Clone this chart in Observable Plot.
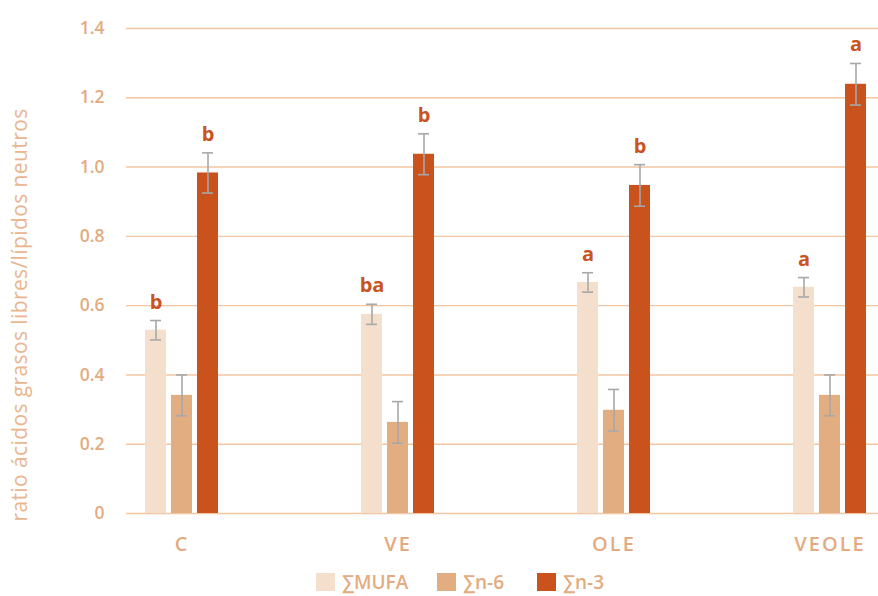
<!DOCTYPE html>
<html>
<head>
<meta charset="utf-8">
<script src="https://cdn.jsdelivr.net/npm/d3@7"></script>
<script src="https://cdn.jsdelivr.net/npm/@observablehq/plot@0.6"></script>
<style>
  html, body { margin: 0; padding: 0; background: #fff; }
  #chart { width: 878px; position: relative; height: 568px; }
  #chart svg { position: absolute; left: 0; top: 0; }
  .legend { position: relative; height: 28px; width: 878px; font-family: "Open Sans", sans-serif; font-weight: 600; font-size: 19px; color: #E3AB7F; }
  .legend .item { position: absolute; top: 0; display: flex; align-items: center; height: 28px; }
  .legend .sw { width: 19px; height: 18px; margin-right: 7px; }
</style>
</head>
<body>
<div id="chart"></div>
<div id="legend" class="legend"></div>
<script>
const categories = ["C", "VE", "OLE", "VEOLE"];
const series = ["∑MUFA", "∑n-6", "∑n-3"];
const mufa = [0.529, 0.575, 0.667, 0.653];
const n6 = [0.341, 0.263, 0.298, 0.341];
const n3 = [0.983, 1.037, 0.947, 1.239];
const mufaErr = [0.028, 0.029, 0.028, 0.028];
const n6Err = [0.059, 0.060, 0.060, 0.059];
const n3Err = [0.058, 0.059, 0.060, 0.060];
const mufaSig = ["b", "ba", "a", "a"];
const n6Sig = ["", "", "", ""];
const n3Sig = ["b", "b", "b", "a"];
const yTicks = [0, 0.2, 0.4, 0.6, 0.8, 1.0, 1.2, 1.4];
const colors = ["#F4DFCC", "#E3AD82", "#C9521D"];
const yTitle = "ratio ácidos grasos libres/lípidos neutros";

const valuesBySeries = [mufa, n6, n3];
const errBySeries = [mufaErr, n6Err, n3Err];
const sigBySeries = [mufaSig, n6Sig, n3Sig];
const data = [];
categories.forEach((c, i) => {
  series.forEach((s, j) => {
    const v = valuesBySeries[j][i], e = errBySeries[j][i];
    data.push({cat: c, series: s, value: v, lo: v - e, hi: v + e, sig: sigBySeries[j][i]});
  });
});

const tan = "#E3AB7F";
const common = {
  width: 878,
  height: 568,
  marginLeft: 126,
  marginRight: 0,
  marginTop: 28,
  marginBottom: 55,
  y: {domain: [0, 1.4], axis: null}
};

// Layer 1: grid, y axis and y title (not faceted)
const back = Plot.plot({
  ...common,
  style: {fontFamily: "'Open Sans', sans-serif", background: "#fff"},
  marks: [
    Plot.ruleY(yTicks, {y: d => d, stroke: "#F2C6A2", strokeWidth: 1.4}),
    Plot.axisY(yTicks, {tickSize: 0, tickPadding: 22, tickFormat: d => d === 0 ? "0" : d.toFixed(1), fill: tan, fontSize: 17.5, fontWeight: 600, label: null}),
    Plot.text([yTitle], {text: d => d, frameAnchor: "left", textAnchor: "middle", rotate: -90, dx: -106, dy: 44, fill: "#E9B690", fontSize: 21, fontWeight: 400})
  ]
});
back.querySelectorAll("text").forEach(t => { if (t.textContent === yTitle) t.setAttribute("letter-spacing", "0.4"); });

// Layer 2: bars, error bars, letters and category axis (faceted)
const front = Plot.plot({
  ...common,
  style: {fontFamily: "'Open Sans', sans-serif", background: "transparent"},
  fx: {domain: categories, paddingInner: 0.632, paddingOuter: 0.0566, align: 0.663, axis: null},
  x: {domain: series, paddingInner: 0.2, paddingOuter: 0.1, axis: null},
  color: {domain: series, range: colors},
  marks: [
    Plot.barY(data, {fx: "cat", x: "series", y: "value", fill: "series"}),
    Plot.ruleX(data, {fx: "cat", x: "series", y1: "lo", y2: "hi", stroke: "#A8A8A8", strokeWidth: 1.6}),
    Plot.tickY(data, {fx: "cat", x: "series", y: "hi", stroke: "#A8A8A8", strokeWidth: 1.6, insetLeft: 5, insetRight: 5}),
    Plot.tickY(data, {fx: "cat", x: "series", y: "lo", stroke: "#A8A8A8", strokeWidth: 1.6, insetLeft: 5, insetRight: 5}),
    Plot.text(data.filter(d => d.sig), {fx: "cat", x: "series", y: "hi", text: "sig", dy: -12, lineAnchor: "bottom", fill: "#C9541F", fontSize: 20, fontWeight: 700}),
    Plot.axisFx({anchor: "bottom", tickSize: 0, tickPadding: 23, fontSize: 20, fontWeight: 600, fill: tan, label: null})
  ]
});
front.querySelectorAll("[aria-label='fx-axis tick label'] text").forEach(t => t.setAttribute("letter-spacing", "2"));

const chartEl = document.getElementById("chart");
chartEl.appendChild(back);
chartEl.appendChild(front);

const legend = document.getElementById("legend");
const lx = [316, 437, 537];
series.forEach((s, j) => {
  const it = document.createElement("div");
  it.className = "item";
  it.style.left = lx[j] + "px";
  const sw = document.createElement("div");
  sw.className = "sw";
  sw.style.background = colors[j];
  const t = document.createElement("span");
  t.textContent = s;
  it.appendChild(sw); it.appendChild(t);
  legend.appendChild(it);
});
</script>
</body>
</html>
